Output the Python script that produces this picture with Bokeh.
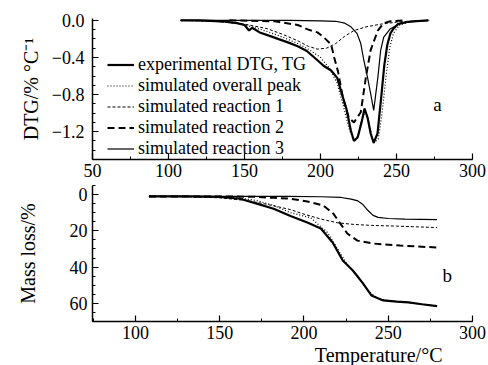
from bokeh.plotting import figure
from bokeh.models import (Range1d, SingleIntervalTicker, CustomJSTickFormatter,
                          Label, Legend, LegendItem, Title)
from bokeh.layouts import column
from bokeh.embed import file_html
from bokeh.resources import INLINE

# ---------------- (a) DTG data ----------------
exp_dtg_T = [108, 120, 135, 145, 150, 153, 155, 160, 167, 172, 179, 185, 191, 198, 202, 207, 211, 214, 217, 220,
             222, 224.5, 227, 229, 231, 233, 235, 237.5, 240, 242, 244, 246, 248, 251, 256, 261, 271]
exp_dtg = [0, 0, -0.01, -0.03, -0.05, -0.11, -0.08, -0.13, -0.17, -0.20, -0.24, -0.28, -0.33, -0.43, -0.49, -0.54,
           -0.62, -0.79, -0.95, -1.19, -1.30, -1.26, -1.10, -0.95, -1.05, -1.22, -1.32, -1.22, -0.82, -0.48, -0.26,
           -0.14, -0.09, -0.04, -0.02, -0.01, 0]

sim_dtg_T = [108, 130, 145, 155, 165, 175, 185, 193, 200, 206, 211, 215, 219, 222, 224.5, 227, 229.5, 232, 235, 238,
             240.5, 243, 245.5, 248, 252, 260, 271]
sim_dtg = [0, -0.01, -0.03, -0.07, -0.12, -0.18, -0.25, -0.32, -0.40, -0.52, -0.68, -0.92, -1.18, -1.30, -1.25,
           -1.08, -0.98, -1.12, -1.32, -1.28, -1.00, -0.62, -0.30, -0.14, -0.05, -0.01, 0]

r1_dtg_T = [108, 130, 150, 165, 175, 185, 192, 198, 204, 210, 216, 222, 230, 240, 250, 260, 272]
r1_dtg = [0, -0.01, -0.04, -0.09, -0.15, -0.22, -0.28, -0.31, -0.30, -0.25, -0.17, -0.11, -0.07, -0.04, -0.02,
          -0.01, 0]

r2_dtg_T = [140, 170, 185, 192, 198, 202, 207, 209, 211.5, 214.7, 218.6, 222, 226.5, 229.8, 233, 237.7, 241.6,
            246, 255]
r2_dtg = [0, -0.01, -0.05, -0.10, -0.13, -0.18, -0.26, -0.40, -0.55, -0.83, -1.05, -1.10, -0.99, -0.62, -0.32,
          -0.11, -0.03, -0.01, 0]

r3_dtg_T = [108, 180, 200, 210, 216, 220, 224, 226.5, 228.5, 231, 233, 235, 237.7, 239.6, 241.6, 246, 253, 262, 271]
r3_dtg = [0, 0, -0.005, -0.01, -0.03, -0.07, -0.14, -0.25, -0.43, -0.62, -0.79, -0.97, -0.62, -0.32, -0.18,
          -0.09, -0.03, -0.01, 0]

# ---------------- (b) TG data ----------------
exp_tg_T = [108, 130, 150, 162, 172, 182, 192, 202, 210, 217, 223, 229, 235, 240, 247, 255, 262, 270, 279]
exp_tg = [1, 1, 1.3, 2.3, 5, 7.8, 11.8, 15.4, 18.7, 26.4, 36.4, 41.9, 49, 55.6, 58.4, 59.0, 59.5, 60.5, 61.5]

sim_tg_T = [108, 130, 150, 162, 172, 182, 192, 204, 214, 220, 226, 232, 238, 244, 250, 260, 270, 279]
sim_tg = [1, 1, 1.2, 2, 3.3, 6, 10, 12.8, 21, 30, 39, 45, 53, 57.5, 58.5, 59.3, 60.5, 61.5]

r1_tg_T = [108, 130, 150, 165, 175, 185, 192, 200, 210, 220, 230, 240, 255, 270, 279]
r1_tg = [1, 1.2, 1.8, 3.2, 4.8, 6.8, 8.3, 10.8, 13.5, 15.6, 16.5, 17.0, 17.4, 17.9, 18.2]

r2_tg_T = [108, 150, 170, 182, 192, 202, 211.5, 217.4, 221.6, 225.7, 231.7, 241, 257, 279]
r2_tg = [1, 1, 1.2, 1.8, 2.3, 3.8, 6, 10.5, 16, 21.5, 25.4, 27, 28.1, 29.2]

r3_tg_T = [108, 150, 190, 210, 222, 228, 232, 235, 238, 241, 244, 250, 260, 279]
r3_tg = [1, 1, 1, 1.2, 1.6, 2.5, 3.5, 5.5, 8.8, 11.5, 12.6, 13.2, 13.5, 13.8]

legend_labels = ["experimental DTG, TG", "simulated overall peak", "simulated reaction 1",
                 "simulated reaction 2", "simulated reaction 3"]

FONT = "Liberation Serif"

# line styles: (width, dash)
styles = [
    (2.2, "solid"),
    (1.2, "1 2"),
    (1.0, "3 2"),
    (2.0, "7 4"),
    (1.2, "solid"),
]


def style_axes(p, ylabel, y_standoff, y_lab_standoff):
    for ax in (p.xaxis[0], p.yaxis[0]):
        ax.axis_line_width = 1.5
        ax.axis_line_color = "black"
        ax.major_tick_in = 6
        ax.major_tick_out = 0
        ax.minor_tick_in = 3
        ax.minor_tick_out = 0
        ax.major_tick_line_width = 1.2
        ax.minor_tick_line_width = 1.0
        ax.major_tick_line_color = "black"
        ax.minor_tick_line_color = "black"
        ax.major_label_text_font = FONT
        ax.major_label_text_font_size = "18px"
        ax.major_label_text_color = "black"
        ax.axis_label_text_font = FONT
        ax.axis_label_text_font_size = "20px"
        ax.axis_label_text_font_style = "normal"
        ax.axis_label_text_color = "black"
    p.xaxis[0].major_label_standoff = 4
    p.yaxis[0].major_label_standoff = y_standoff
    p.yaxis[0].axis_label = ylabel
    p.yaxis[0].axis_label_standoff = y_lab_standoff
    p.xgrid.visible = False
    p.ygrid.visible = False
    p.outline_line_color = None
    p.background_fill_color = "white"
    p.border_fill_color = "white"


# ---------------- top figure ----------------
p1 = figure(width=488, height=185, output_backend="svg", toolbar_location=None,
            x_range=Range1d(50, 300), y_range=Range1d(-1.5, 0.02),
            min_border_left=91, min_border_right=16, min_border_top=18, min_border_bottom=26)
p1.xaxis.ticker = SingleIntervalTicker(interval=50, num_minor_ticks=2)
p1.yaxis.ticker = SingleIntervalTicker(interval=0.4, num_minor_ticks=4)
p1.yaxis.formatter = CustomJSTickFormatter(code="""
    if (Math.abs(tick) < 1e-9) { return "0.0"; }
    return (tick < 0 ? "\u2212" : "") + Math.abs(tick).toFixed(1);
""")
style_axes(p1, "DTG/% \u00b0C\u207b\u00b9", 8, 7)

top_series = [(exp_dtg_T, exp_dtg), (sim_dtg_T, sim_dtg), (r1_dtg_T, r1_dtg),
              (r2_dtg_T, r2_dtg), (r3_dtg_T, r3_dtg)]
items = []
for (xs, ys), (w, d), lab in zip(top_series, styles, legend_labels):
    r = p1.line(xs, ys, line_color="black", line_width=w, line_dash=d)
    items.append(LegendItem(label=lab, renderers=[r]))

legend = Legend(items=items, location=(15, 0), orientation="vertical",
                glyph_width=27, glyph_height=19, label_height=19, label_standoff=4,
                spacing=-3, padding=0, margin=0,
                label_text_font=FONT, label_text_font_size="18px", label_text_color="black",
                background_fill_alpha=0, border_line_alpha=0)
p1.add_layout(legend)
p1.add_layout(Label(x=277, y=-0.91, text="a", text_font=FONT, text_font_size="19px",
                    text_align="center", text_baseline="middle", text_color="black"))

# ---------------- bottom figure ----------------
p2 = figure(width=488, height=180, output_backend="svg", toolbar_location=None,
            x_range=Range1d(74.5, 300), y_range=Range1d(70, -5),
            min_border_left=92, min_border_right=16, min_border_top=0, min_border_bottom=44)
p2.xaxis.ticker = SingleIntervalTicker(interval=50, num_minor_ticks=2)
p2.yaxis.ticker = SingleIntervalTicker(interval=20, num_minor_ticks=4)
style_axes(p2, "Mass loss/%", 5, 28)

bot_series = [(exp_tg_T, exp_tg), (sim_tg_T, sim_tg), (r1_tg_T, r1_tg),
              (r2_tg_T, r2_tg), (r3_tg_T, r3_tg)]
for (xs, ys), (w, d) in zip(bot_series, styles):
    p2.line(xs, ys, line_color="black", line_width=w, line_dash=d)

p2.add_layout(Label(x=285, y=44.6, text="b", text_font=FONT, text_font_size="19px",
                    text_align="center", text_baseline="middle", text_color="black"))
p2.add_layout(Title(text="Temperature/\u00b0C", align="right", offset=30, standoff=0,
                    text_font=FONT, text_font_size="20px", text_font_style="normal",
                    text_color="black"), "below")

layout = column(p1, p2, spacing=0)
open("out.html", "w").write(file_html(layout, INLINE))
